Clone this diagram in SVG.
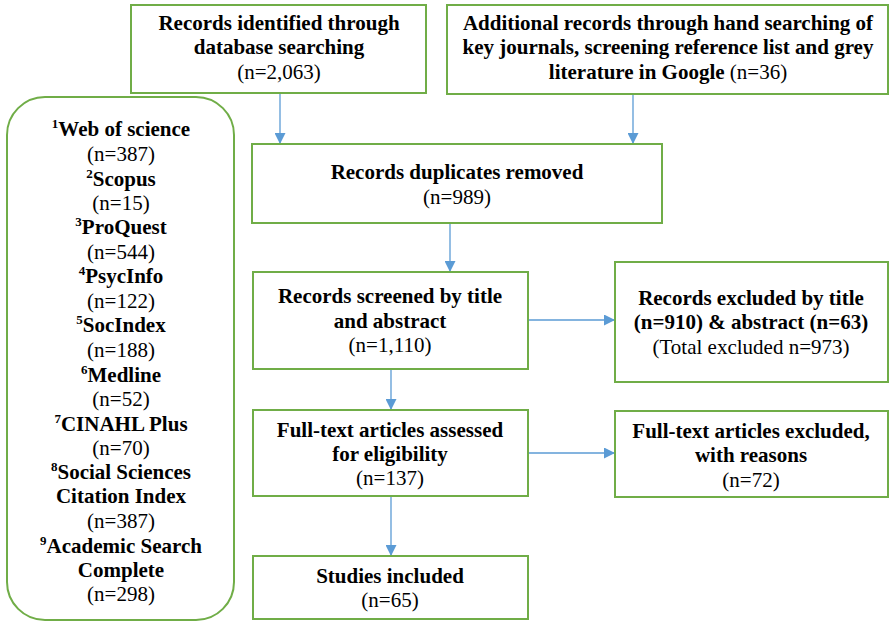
<svg xmlns="http://www.w3.org/2000/svg" width="890" height="624" viewBox="0 0 890 624">
<style>
.box{fill:#fff;stroke:#70AD47;stroke-width:2}
text{font-family:'Liberation Serif','Times New Roman',serif;font-size:21px;text-anchor:middle;fill:#000}
.b{font-weight:bold}
.n{font-weight:normal}
.s{font-size:13px}
.c{stroke:#5B9BD5;stroke-width:1.3;fill:none;marker-end:url(#ah)}
</style>
<defs>
<marker id="ah" markerWidth="11" markerHeight="11" refX="10" refY="5.5" orient="auto" markerUnits="userSpaceOnUse">
<path d="M0,0 L11,5.5 L0,11 Z" fill="#5B9BD5"/>
</marker>
</defs>
<rect width="890" height="624" fill="#fff"/>
<g id="connectors">
<line class="c" x1="280" y1="94" x2="280" y2="143"/>
<line class="c" x1="633" y1="95" x2="633" y2="143"/>
<line class="c" x1="450" y1="223" x2="450" y2="271"/>
<line class="c" x1="528" y1="320" x2="614" y2="320"/>
<line class="c" x1="391" y1="369" x2="391" y2="409"/>
<line class="c" x1="528" y1="453" x2="614" y2="453"/>
<line class="c" x1="391" y1="496" x2="391" y2="555"/>
</g>
<g id="databases">
<rect class="box" x="7" y="97" width="227" height="523" rx="38"/>
<text class="b" x="121" y="136"><tspan class="s" dy="-8">1</tspan><tspan dy="8">Web of science</tspan></text>
<text class="n" x="121" y="161">(n=387)</text>
<text class="b" x="121" y="186"><tspan class="s" dy="-8">2</tspan><tspan dy="8">Scopus</tspan></text>
<text class="n" x="121" y="210">(n=15)</text>
<text class="b" x="121" y="234"><tspan class="s" dy="-8">3</tspan><tspan dy="8">ProQuest</tspan></text>
<text class="n" x="121" y="259">(n=544)</text>
<text class="b" x="121" y="283"><tspan class="s" dy="-8">4</tspan><tspan dy="8">PsycInfo</tspan></text>
<text class="n" x="121" y="308">(n=122)</text>
<text class="b" x="121" y="332"><tspan class="s" dy="-8">5</tspan><tspan dy="8">SocIndex</tspan></text>
<text class="n" x="121" y="357">(n=188)</text>
<text class="b" x="121" y="382"><tspan class="s" dy="-8">6</tspan><tspan dy="8">Medline</tspan></text>
<text class="n" x="121" y="406">(n=52)</text>
<text class="b" x="121" y="431"><tspan class="s" dy="-8">7</tspan><tspan dy="8">CINAHL Plus</tspan></text>
<text class="n" x="121" y="455">(n=70)</text>
<text class="b" x="121" y="479"><tspan class="s" dy="-8">8</tspan><tspan dy="8">Social Sciences</tspan></text>
<text class="b" x="121" y="503">Citation Index</text>
<text class="n" x="121" y="528">(n=387)</text>
<text class="b" x="121" y="553"><tspan class="s" dy="-8">9</tspan><tspan dy="8">Academic Search</tspan></text>
<text class="b" x="121" y="577">Complete</text>
<text class="n" x="121" y="601">(n=298)</text>
</g>
<g id="identified">
<rect class="box" x="131" y="5" width="295" height="88"/>
<text class="b" x="279" y="30">Records identified through</text>
<text class="b" x="279" y="54">database searching</text>
<text class="n" x="279" y="79">(n=2,063)</text>
</g>
<g id="additional">
<rect class="box" x="447" y="5" width="441" height="89"/>
<text class="b" x="668" y="30">Additional records through hand searching of</text>
<text class="b" x="668" y="54">key journals, screening reference list and grey</text>
<text class="b" x="668" y="79">literature in Google <tspan class="n">(n=36)</tspan></text>
</g>
<g id="duplicates">
<rect class="box" x="252" y="144" width="410" height="79"/>
<text class="b" x="457" y="179">Records duplicates removed</text>
<text class="n" x="457" y="204">(n=989)</text>
</g>
<g id="screened">
<rect class="box" x="253" y="272" width="275" height="97"/>
<text class="b" x="390" y="303">Records screened by title</text>
<text class="b" x="390" y="328">and abstract</text>
<text class="n" x="390" y="352">(n=1,110)</text>
</g>
<g id="excluded1">
<rect class="box" x="615" y="262" width="273" height="120"/>
<text class="b" x="751" y="305">Records excluded by title</text>
<text class="b" x="751" y="329">(n=910) &amp; abstract (n=63)</text>
<text class="n" x="751" y="354">(Total excluded n=973)</text>
</g>
<g id="fulltext">
<rect class="box" x="253" y="410" width="275" height="86"/>
<text class="b" x="390" y="437">Full-text articles assessed</text>
<text class="b" x="390" y="461">for eligibility</text>
<text class="n" x="390" y="485">(n=137)</text>
</g>
<g id="excluded2">
<rect class="box" x="615" y="411" width="273" height="86"/>
<text class="b" x="751" y="438">Full-text articles excluded,</text>
<text class="b" x="751" y="462">with reasons</text>
<text class="n" x="751" y="487">(n=72)</text>
</g>
<g id="included">
<rect class="box" x="253" y="556" width="275" height="63"/>
<text class="b" x="390" y="583">Studies included</text>
<text class="n" x="390" y="607">(n=65)</text>
</g>
</svg>
